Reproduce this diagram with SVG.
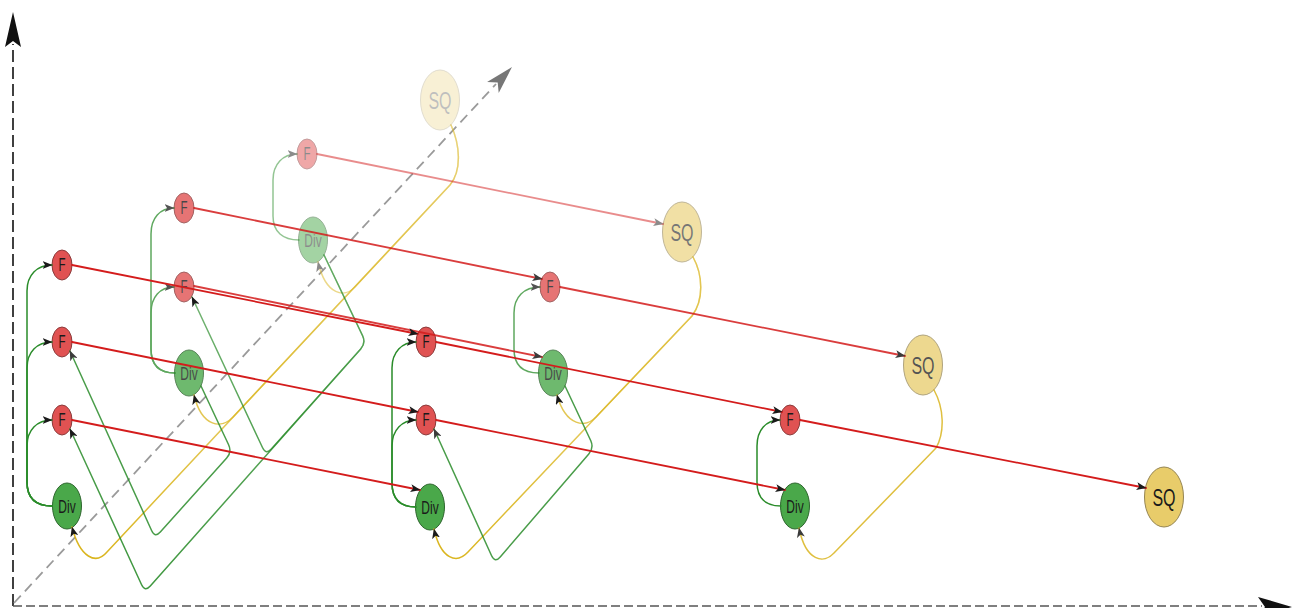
<svg xmlns="http://www.w3.org/2000/svg" width="1292" height="608" viewBox="0 0 1292 608">
<defs>
<style>
.f{fill:#e05252;stroke:#8a3b3b;stroke-width:1}
.d{fill:#4aa84a;stroke:#2e662e;stroke-width:1}
.s{fill:#e8cc6a;stroke:#958553;stroke-width:1}
text{font-family:"Liberation Sans",Arial,sans-serif;fill:#1a1a1a;text-anchor:middle}
.tf{font-size:11.5px}
.td{font-size:12px}
.ts{font-size:16px}
.l1{opacity:.8}
.l1s{opacity:.75}
.l2{opacity:.5}
.l2s{opacity:.6}
.l3{opacity:.28}
.e{fill:none;stroke-linejoin:round;stroke-linecap:round}
.r{stroke:#d41c1c;stroke-width:1.8;marker-end:url(#ah)}
.g{stroke:#2a8c2a;stroke-width:1.5;marker-end:url(#ah)}
.y{stroke:#dab51e;stroke-width:1.5;marker-end:url(#ah)}
.gr2{stroke:url(#gR2)}
.gy3{stroke:url(#gY3)}
.gy2{stroke:url(#gY2)}
.o85{opacity:.85}
.o75{opacity:.75}
</style>
<marker id="ah" viewBox="0 0 10 8" refX="9.5" refY="4" markerWidth="10" markerHeight="8" markerUnits="userSpaceOnUse" orient="auto"><path d="M0,0 L10,4 L0,8 L2.5,4 Z" fill="#1a1a1a"/></marker>
<marker id="ahg" viewBox="0 0 10 8" refX="9.5" refY="4" markerWidth="10" markerHeight="8" markerUnits="userSpaceOnUse" orient="auto"><path d="M0,0 L10,4 L0,8 L2.5,4 Z" fill="#8a8a8a"/></marker>
<linearGradient id="gR2" gradientUnits="userSpaceOnUse" x1="340" y1="250" x2="145" y2="592"><stop offset="0" stop-color="#2a8c2a" stop-opacity="0.45"/><stop offset="0.5" stop-color="#2a8c2a" stop-opacity="0.8"/><stop offset="1" stop-color="#2a8c2a" stop-opacity="0.9"/></linearGradient>
<linearGradient id="gY3" gradientUnits="userSpaceOnUse" x1="455" y1="125" x2="100" y2="560"><stop offset="0" stop-color="#dab51e" stop-opacity="0.25"/><stop offset="1" stop-color="#dab51e" stop-opacity="1"/></linearGradient>
<linearGradient id="gY2" gradientUnits="userSpaceOnUse" x1="694" y1="257" x2="440" y2="560"><stop offset="0" stop-color="#dab51e" stop-opacity="0.5"/><stop offset="1" stop-color="#dab51e" stop-opacity="1"/></linearGradient>
</defs>
<rect width="1292" height="608" fill="#ffffff"/>

<g id="axes">
<path d="M13,606 V44" fill="none" stroke="#111" stroke-width="1.6" stroke-dasharray="12,5"/>
<path d="M13,12 L21,47 L13,41 L5,47 Z" fill="#111"/>
<path d="M13,606 H1262" fill="none" stroke="#555" stroke-width="1.6" stroke-dasharray="9,4"/>
<path d="M1292,607 L1258,597 L1265,607 L1258,617 Z" fill="#111"/>
<path d="M14,603 L496,84" fill="none" stroke="#9a9a9a" stroke-width="1.8" stroke-dasharray="10,6"/>
<path d="M512,67 L498.7,93 L497.7,82.4 L487.1,82 Z" fill="#777"/>
</g>

<g id="nodes">
<g id="L3-SQ" class="l3"><ellipse class="s" cx="440" cy="100" rx="19.5" ry="30"/><text class="ts" transform="translate(440,100) scale(1,1.55)" y="5.8">SQ</text></g>
<g id="L2-F0" class="l2"><ellipse class="f" cx="307" cy="154" rx="10" ry="15"/><text class="tf" transform="translate(307,154) scale(1,1.55)" y="4.1">F</text></g>
<g id="L2-Div0" class="l2"><ellipse class="d" cx="313" cy="240" rx="14.5" ry="23"/><text class="td" transform="translate(313,240) scale(1,1.55)" y="4.3">Div</text></g>
<g id="L2-SQ" class="l2s"><ellipse class="s" cx="682" cy="232" rx="19.5" ry="30"/><text class="ts" transform="translate(682,232) scale(1,1.55)" y="5.8">SQ</text></g>
<g id="L1-F0a" class="l1"><ellipse class="f" cx="184" cy="208" rx="10" ry="15"/><text class="tf" transform="translate(184,208) scale(1,1.55)" y="4.1">F</text></g>
<g id="L1-F0b" class="l1"><ellipse class="f" cx="184" cy="287" rx="10" ry="15"/><text class="tf" transform="translate(184,287) scale(1,1.55)" y="4.1">F</text></g>
<g id="L1-Div0" class="l1"><ellipse class="d" cx="189" cy="373" rx="14.5" ry="23"/><text class="td" transform="translate(189,373) scale(1,1.55)" y="4.3">Div</text></g>
<g id="L1-F1" class="l1"><ellipse class="f" cx="550" cy="287" rx="10" ry="15"/><text class="tf" transform="translate(550,287) scale(1,1.55)" y="4.1">F</text></g>
<g id="L1-Div1" class="l1"><ellipse class="d" cx="553" cy="373" rx="14.5" ry="23"/><text class="td" transform="translate(553,373) scale(1,1.55)" y="4.3">Div</text></g>
<g id="L1-SQ" class="l1s"><ellipse class="s" cx="923" cy="365" rx="19.5" ry="30"/><text class="ts" transform="translate(923,365) scale(1,1.55)" y="5.8">SQ</text></g>
<g id="L0-F0a"><ellipse class="f" cx="62" cy="265" rx="10" ry="15"/><text class="tf" transform="translate(62,265) scale(1,1.55)" y="4.1">F</text></g>
<g id="L0-F0b"><ellipse class="f" cx="62" cy="342" rx="10" ry="15"/><text class="tf" transform="translate(62,342) scale(1,1.55)" y="4.1">F</text></g>
<g id="L0-F0c"><ellipse class="f" cx="62" cy="420" rx="10" ry="15"/><text class="tf" transform="translate(62,420) scale(1,1.55)" y="4.1">F</text></g>
<g id="L0-Div0"><ellipse class="d" cx="67" cy="506" rx="14.5" ry="23"/><text class="td" transform="translate(67,506) scale(1,1.55)" y="4.3">Div</text></g>
<g id="L0-F1a"><ellipse class="f" cx="426" cy="342" rx="10" ry="15"/><text class="tf" transform="translate(426,342) scale(1,1.55)" y="4.1">F</text></g>
<g id="L0-F1b"><ellipse class="f" cx="426" cy="420" rx="10" ry="15"/><text class="tf" transform="translate(426,420) scale(1,1.55)" y="4.1">F</text></g>
<g id="L0-Div1"><ellipse class="d" cx="430" cy="507" rx="14.5" ry="23"/><text class="td" transform="translate(430,507) scale(1,1.55)" y="4.3">Div</text></g>
<g id="L0-F2"><ellipse class="f" cx="790" cy="420" rx="10" ry="15"/><text class="tf" transform="translate(790,420) scale(1,1.55)" y="4.1">F</text></g>
<g id="L0-Div2"><ellipse class="d" cx="795" cy="506" rx="14.5" ry="23"/><text class="td" transform="translate(795,506) scale(1,1.55)" y="4.3">Div</text></g>
<g id="L0-SQ"><ellipse class="s" cx="1164" cy="497" rx="19.5" ry="30"/><text class="ts" transform="translate(1164,497) scale(1,1.55)" y="5.8">SQ</text></g>
</g>

<g id="connectors">
<path class="e y gy3" style="marker-end:url(#ahg)" d="M451,125 C460,145 462,170 450,185 L355,287 C345,298 326,296 318,262"/>
<path class="e y gy3" d="M451,125 C460,145 462,170 450,185 L233,417 C222,429 202,428 194,395"/>
<path class="e y gy3" d="M451,125 C460,145 462,170 450,185 L107,552 C96,565 80,558 72,527"/>
<g class="l2">
<path class="e g" d="M299,240 C283,240 273,232 273,216 L273,180 C273,164 283,154 297,154"/>
<path class="e r" d="M317,154 L663,224"/>
</g>
<path class="e g gr2" d="M324,255 L362.6,335.8 Q366,343 360.7,349 L271.3,449 Q266,455 262.6,447.8 L192,297"/>
<path class="e g gr2" d="M324,255 L362.6,335.8 Q366,343 360.7,349 L150.3,586 Q145,592 141.6,584.8 L70,429"/>
<path class="e y gy2" d="M693,257 C703,275 704,300 692,316 L596,417 C586,428 566,427 557,395"/>
<path class="e y gy2" d="M693,257 C703,275 704,300 692,316 L468,552 C457,564 441,560 434,529"/>
<g class="o75">
<path class="e g" d="M175,373 C159,373 151,365 151,349 L151,313 C151,297 160,287 174,287"/>
<path class="e g" d="M175,373 C159,373 151,365 151,349 L151,234 C151,218 160,208 174,208"/>
<path class="e g" d="M539,373 C523,373 514,365 514,349 L514,313 C514,297 524,287 540,287"/>
</g>
<g class="o85">
<path class="e r" d="M194,208 L542,279"/>
<path class="e r" d="M194,286 L542,357"/>
<path class="e r" d="M560,287 L905,356"/>
<path class="e g" d="M201,386 L228.6,444.7 Q232,452 226.7,458 L160.3,532 Q155,538 151.7,530.7 L70,351"/>
<path class="e g" d="M565,386 L590.8,440.7 Q594,448 588.8,454.1 L500.2,556.9 Q495,563 491.6,555.8 L434,429"/>
<path class="e y" d="M934,390 C944,408 945,432 936,448 L834,553 C824,564 806,562 799,528"/>
</g>
<path class="e g" d="M52,506 C36,506 27,498 27,482 L27,446 C27,430 37,420 52,420"/>
<path class="e g" d="M52,506 C36,506 27,498 27,482 L27,368 C27,352 37,342 52,342"/>
<path class="e g" d="M52,506 C36,506 27,498 27,482 L27,291 C27,275 37,265 52,265"/>
<path class="e g" d="M416,507 C400,507 392,499 392,483 L392,446 C392,430 402,420 416,420"/>
<path class="e g" d="M416,507 C400,507 392,499 392,483 L392,368 C392,352 402,342 416,342"/>
<path class="e g" d="M781,506 C765,506 757,498 757,482 L757,446 C757,430 766,420 780,420"/>
<path class="e r" d="M72,265 L418,334"/>
<path class="e r" d="M72,342 L418,412"/>
<path class="e r" d="M72,420 L420,490"/>
<path class="e r" d="M436,342 L782,412"/>
<path class="e r" d="M436,420 L785,490"/>
<path class="e r" d="M800,420 L1146,488"/>
</g>
</svg>
